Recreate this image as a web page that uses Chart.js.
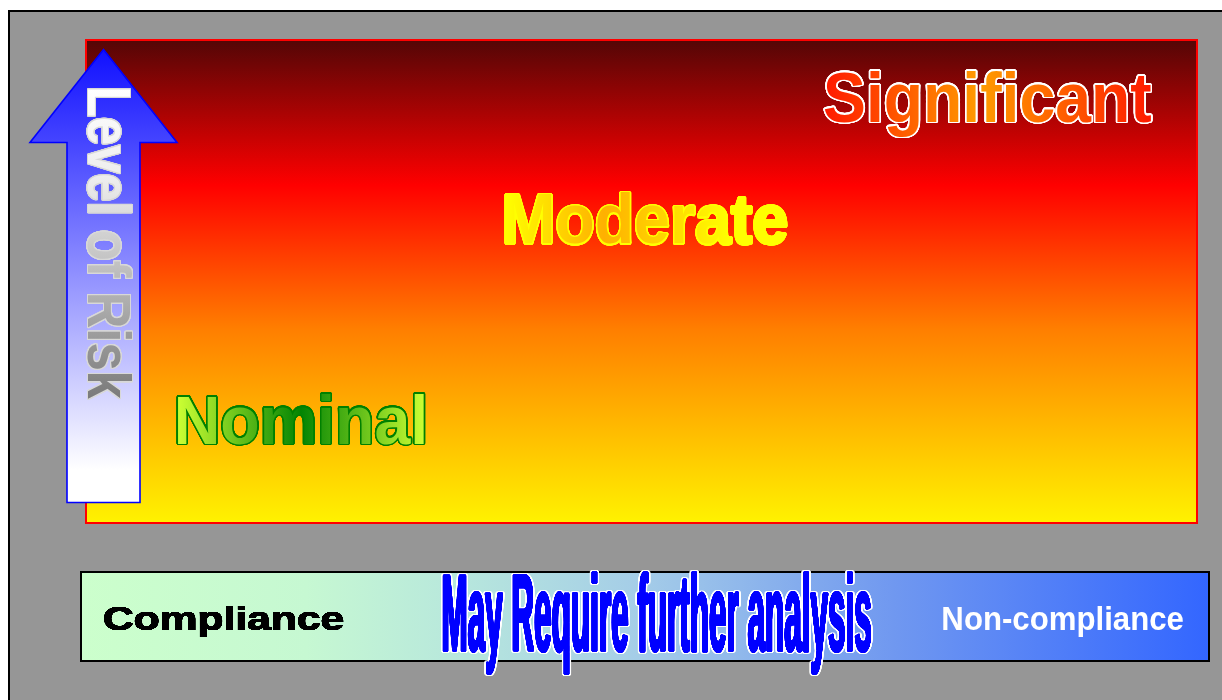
<!DOCTYPE html>
<html>
<head>
<meta charset="utf-8">
<script src="https://cdn.jsdelivr.net/npm/chart.js@4"></script>
<style>
  html, body { margin: 0; padding: 0; background: #ffffff; }
  canvas { display: block; }
</style>
</head>
<body>
<canvas id="c" width="1222" height="700"></canvas>
<script>
// ---- data ----
const riskLevels = ['Nominal', 'Moderate', 'Significant'];
const riskCompliance = [19.3, 50.4, 81.2];   // position along the compliance axis (0-100)
const riskLevel = [21.2, 63.0, 88.3];        // level of risk (0-100)
const complianceLabels = ['Compliance', 'May Require further analysis', 'Non-compliance'];
const compliancePos = [12.3, 51.4, 88.0];    // position along the compliance axis (0-100)
const axisTitle = 'Level of Risk';

// ---- styles ----
const riskStyles = {
  Significant: { cap: 49, width: 327, rings: [{ r: 1.6, color: '#ffffff' }],
    fill: [[0, '#ff1a00'], [0.48, '#ff9c00'], [1, '#ff1a00']] },
  Moderate: { cap: 49, width: 281, rings: [{ r: 1.5, color: '#ffff00' }],
    fill: [[0, '#ffff00'], [0.35, '#ffb000'], [0.8, '#ffff00'], [1, '#ffff00']] },
  Nominal: { cap: 47, width: 247, rings: [{ r: 1.5, color: '#008000' }],
    fill: [[0, '#ccff33'], [0.5, '#038403'], [1, '#ccff33']] }
};
const complianceStyles = {
  'Compliance': { cap: 23, width: 239, baseline: 630, font: 'bold 40px "Liberation Sans", Arial, sans-serif',
    rings: [{ r: 0.4, color: '#000000' }], fill: '#000000' },
  'May Require further analysis': { cap: 75, width: 427, baseline: 651,
    font: 'bold 60px "Liberation Sans Narrow", "Liberation Sans", Arial, sans-serif',
    rings: [{ r: 2.4, color: '#ffffff' }, { r: 0.6, color: '#0000ff' }], fill: '#0000ff' },
  'Non-compliance': { cap: 23, width: 240, baseline: 630, font: 'bold 40px "Liberation Sans", Arial, sans-serif',
    rings: [], fill: '#ffffff' }
};

function drawFitted(ctx, text, o) {
  ctx.save();
  ctx.font = o.font;
  ctx.textAlign = 'left';
  ctx.textBaseline = 'alphabetic';
  const m = ctx.measureText(text);
  const inkW = m.actualBoundingBoxRight + m.actualBoundingBoxLeft;
  const capH = ctx.measureText('H').actualBoundingBoxAscent;
  const sx = o.width / inkW, sy = o.cap / capH;
  const mk = (spec) => {
    if (typeof spec === 'string') return spec;
    const g = ctx.createLinearGradient(0, 0, inkW, 0);
    spec.forEach(([t, c]) => g.addColorStop(t, c));
    return g;
  };
  const paint = (dx, dy, style) => {
    ctx.save();
    ctx.translate(o.x + dx, o.y + dy);
    if (o.rotate) ctx.rotate(o.rotate);
    ctx.scale(sx, sy);
    ctx.fillStyle = mk(style);
    ctx.fillText(text, m.actualBoundingBoxLeft, 0);
    ctx.restore();
  };
  (o.rings || []).forEach(ring => {
    const N = 28;
    [ring.r, ring.r * 0.5].forEach(rr => {
      for (let k = 0; k < N; k++) {
        const a = (k / N) * Math.PI * 2;
        paint(rr * Math.cos(a), rr * Math.sin(a), ring.color);
      }
    });
  });
  paint(0, 0, o.fill);
  ctx.restore();
}

const backgroundPlugin = {
  id: 'background',
  beforeDraw(chart) {
    const ctx = chart.ctx;
    const W = chart.width, H = chart.height;
    const a = chart.chartArea;
    ctx.save();
    ctx.fillStyle = '#ffffff';
    ctx.fillRect(0, 0, W, H);
    ctx.fillStyle = '#969696';
    ctx.fillRect(10, 12, W - 10, H - 12);
    ctx.fillStyle = '#000000';
    ctx.fillRect(8, 10, W - 8, 2);
    ctx.fillRect(8, 10, 2, H - 10);

    // risk box
    const g = ctx.createLinearGradient(0, a.top, 0, a.bottom);
    g.addColorStop(0, '#550606');
    g.addColorStop(0.3, '#ff0000');
    g.addColorStop(0.6, '#ff7f00');
    g.addColorStop(1, '#fff200');
    ctx.fillStyle = g;
    ctx.fillRect(a.left, a.top, a.right - a.left, a.bottom - a.top);
    ctx.strokeStyle = '#ff0000';
    ctx.lineWidth = 2;
    ctx.strokeRect(a.left - 1, a.top - 1, a.right - a.left + 2, a.bottom - a.top + 2);

    // compliance bar
    const bx0 = 81, by0 = 572, bw = 1128, bh = 89;
    const g2 = ctx.createLinearGradient(bx0, 0, bx0 + bw, 0);
    g2.addColorStop(0, '#ccffcc');
    g2.addColorStop(0.2, '#c6f8d2');
    g2.addColorStop(0.33, '#b8e8dc');
    g2.addColorStop(0.5, '#a4cce8');
    g2.addColorStop(0.72, '#7098f0');
    g2.addColorStop(1, '#3366ff');
    ctx.fillStyle = g2;
    ctx.fillRect(bx0, by0, bw, bh);
    ctx.strokeStyle = '#000000';
    ctx.lineWidth = 2;
    ctx.strokeRect(bx0, by0, bw, bh);
    ctx.restore();
  }
};

const labelPlugin = {
  id: 'labels',
  afterDatasetsDraw(chart) {
    const ctx = chart.ctx;
    const xs = chart.scales.x;

    // arrow
    ctx.save();
    const ag = ctx.createLinearGradient(0, 49, 0, 470);
    ag.addColorStop(0, '#1010ff');
    ag.addColorStop(1, '#ffffff');
    ctx.beginPath();
    ctx.moveTo(103.5, 49.5);
    ctx.lineTo(177, 142.5);
    ctx.lineTo(140, 142.5);
    ctx.lineTo(140, 502.5);
    ctx.lineTo(67, 502.5);
    ctx.lineTo(67, 142.5);
    ctx.lineTo(30, 142.5);
    ctx.closePath();
    ctx.fillStyle = ag;
    ctx.fill();
    ctx.strokeStyle = '#0000ff';
    ctx.lineWidth = 1.6;
    ctx.stroke();
    ctx.restore();

    drawFitted(ctx, axisTitle, {
      x: 88, y: 89, width: 310, cap: 43, rotate: Math.PI / 2,
      font: 'bold 50px "Liberation Sans", Arial, sans-serif',
      rings: [{ r: 1.2, color: '#d8d8d8' }],
      fill: [[0, '#ffffff'], [0.3, '#ececec'], [0.55, '#c4c4c4'], [1, '#7a7a7a']]
    });

    // risk level labels
    const meta = chart.getDatasetMeta(0);
    riskLevels.forEach((name, i) => {
      const el = meta.data[i];
      const s = riskStyles[name];
      drawFitted(ctx, name, {
        x: el.x - s.width / 2, y: el.y + s.cap / 2, width: s.width, cap: s.cap,
        font: 'bold 68px "Liberation Sans", Arial, sans-serif',
        rings: s.rings, fill: s.fill
      });
    });

    // compliance labels
    complianceLabels.forEach((name, i) => {
      const s = complianceStyles[name];
      const px = xs.getPixelForValue(compliancePos[i]);
      drawFitted(ctx, name, {
        x: px - s.width / 2, y: s.baseline, width: s.width, cap: s.cap,
        font: s.font, rings: s.rings, fill: s.fill
      });
    });
  }
};

new Chart(document.getElementById('c').getContext('2d'), {
  type: 'scatter',
  data: {
    datasets: [{
      label: 'Risk levels',
      data: riskLevels.map((n, i) => ({ x: riskCompliance[i], y: riskLevel[i] })),
      pointRadius: 0,
      pointHoverRadius: 0
    }]
  },
  options: {
    responsive: false,
    animation: false,
    events: [],
    layout: { padding: { left: 87, top: 41, right: 26, bottom: 178 } },
    scales: {
      x: { type: 'linear', min: 0, max: 100, display: false },
      y: { type: 'linear', min: 0, max: 100, display: false }
    },
    plugins: { legend: { display: false }, tooltip: { enabled: false } }
  },
  plugins: [backgroundPlugin, labelPlugin]
});
</script>
</body>
</html>
